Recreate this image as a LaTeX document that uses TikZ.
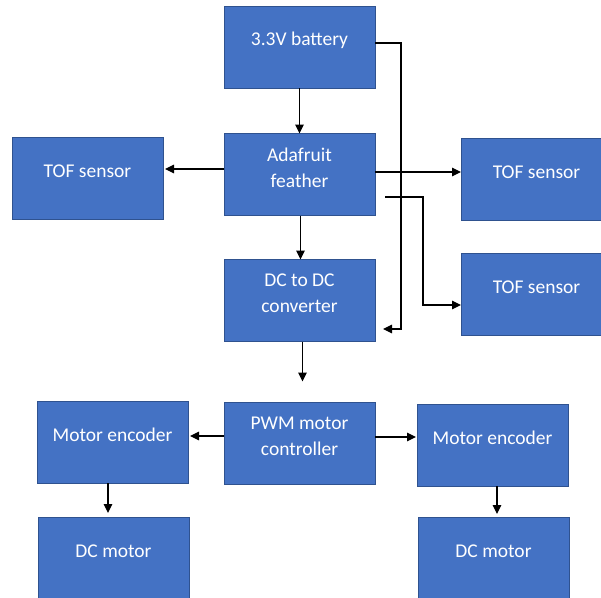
\documentclass[tikz,border=0pt]{standalone}
\usepackage{fontspec}
\setmainfont{Carlito}
\usetikzlibrary{arrows.meta}
\definecolor{boxfill}{HTML}{4472C4}
\definecolor{boxline}{HTML}{2F528F}
\begin{document}
\begin{tikzpicture}[x=1pt,y=-1pt,
  blk/.style={draw=boxline,line width=0.8pt,fill=boxfill,minimum width=151pt,minimum height=82pt,inner sep=0pt,outer sep=0pt},
  txt/.style={text=white,font=\fontsize{19.5}{26}\selectfont,align=center,yshift=7pt},
  arr/.style={draw=black,line width=1.1pt,-{Triangle[length=9pt,width=8.5pt]}}]
\useasboundingbox (0,0) rectangle (601,597);
\clip (0,0) rectangle (601,597);
\fill[white] (0,0) rectangle (601,597);
\node[blk,label={[txt]center:3.3V battery}] (bat) at (299.5,47) {};
\node[blk,label={[txt]center:Adafruit\\feather}] (fea) at (299.5,174.5) {};
\node[blk,label={[txt]center:DC to DC\\converter}] (dcdc) at (299.5,300.5) {};
\node[blk,label={[txt]center:PWM motor\\controller}] (pwm) at (299.5,443.5) {};
\node[blk,label={[txt]center:TOF sensor}] (tofL) at (87.5,178) {};
\node[blk,label={[txt]center:TOF sensor}] (tofRa) at (536.5,179.5) {};
\node[blk,label={[txt]center:TOF sensor}] (tofRb) at (536.5,294.5) {};
\node[blk,label={[txt]center:Motor encoder}] (meL) at (112.5,442) {};
\node[blk,label={[txt]center:Motor encoder}] (meR) at (492.5,445) {};
\node[blk,label={[txt]center:DC motor}] (dcmL) at (113.5,558) {};
\node[blk,label={[txt]center:DC motor}] (dcmR) at (493.5,558) {};
% connectors
\draw[arr] (bat.south) -- (fea.north);
\draw[arr] (fea.west |- 0,169) -- ([xshift=2pt]tofL.east |- 0,169);
\draw[arr] (fea.east |- 0,172) -- (tofRa.west |- 0,172);
\coordinate (bend) at (423,305);
\draw[arr] ([xshift=10pt]fea.east |- 0,197) -| (bend) -- (tofRb.west |- bend);
\coordinate (bturn) at (401,329);
\draw[arr] (bat.east |- 0,43) -| (bturn) -- ([xshift=8pt]dcdc.east |- bturn);
\draw[arr] ([xshift=1pt]fea.south) -- ([xshift=1pt]dcdc.north);
\draw[arr,shorten >=21pt] ([xshift=3pt]dcdc.south) -- ([xshift=3pt]pwm.north);
\draw[arr] (pwm.west |- 0,436) -- ([xshift=2pt]meL.east |- 0,436);
\draw[arr] (pwm.east |- 0,437) -- ([xshift=-1pt]meR.west |- 0,437);
\draw[arr,shorten >=4pt] ([xshift=-4.5pt]meL.south) -- ([xshift=-5.5pt]dcmL.north);
\draw[arr,shorten >=3pt] ([xshift=4.5pt]meR.south) -- ([xshift=3.5pt]dcmR.north);
\end{tikzpicture}
\end{document}
